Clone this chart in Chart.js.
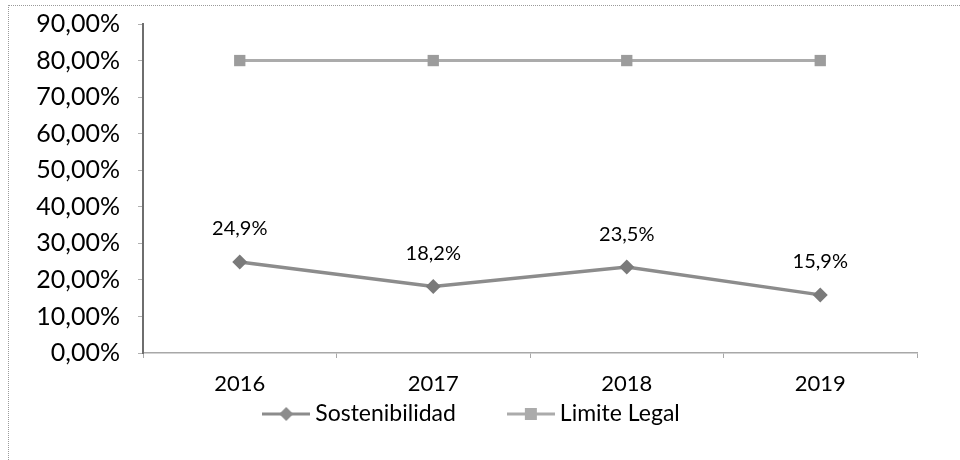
<!DOCTYPE html>
<html>
<head>
<meta charset="utf-8">
<script src="https://cdn.jsdelivr.net/npm/chart.js@4/dist/chart.umd.min.js"></script>
<style>
  html, body { margin: 0; padding: 0; background: #fff; }
  #wrap { position: relative; width: 960px; height: 460px; }
  #frame { position: absolute; left: 8px; top: 5px; right: 0; bottom: 0;
           border-top: 1px dotted #9a9a9a; border-left: 1px dotted #9a9a9a; }
  canvas { position: absolute; left: 0; top: 0; }
</style>
</head>
<body>
<div id="wrap">
  <div id="frame"></div>
  <canvas id="chart" width="960" height="460"></canvas>
</div>
<script>
// chart data
const years = ['2016', '2017', '2018', '2019'];
const sostenibilidad = [24.9, 18.2, 23.5, 15.9];
const limiteLegal = [80, 80, 80, 80];
const seriesNames = ['Sostenibilidad', 'Limite Legal'];

const FONT = 'Lato, "Open Sans", sans-serif';

// little symbol (line + marker) used in the legend
function legendSymbol(color, lineWidth, style) {
    const c = document.createElement('canvas');
    c.width = 48; c.height = 16;
    const g = c.getContext('2d');
    g.strokeStyle = color;
    g.lineWidth = lineWidth;
    g.beginPath(); g.moveTo(0, 8); g.lineTo(48, 8); g.stroke();
    g.fillStyle = color;
    if (style === 'rectRot') {
        g.beginPath(); g.moveTo(24, 1); g.lineTo(31, 8); g.lineTo(24, 15); g.lineTo(17, 8); g.closePath(); g.fill();
    } else {
        g.fillRect(18, 2, 12, 12);
    }
    return c;
}

const dataLabels = {
    id: 'dataLabels',
    afterDatasetsDraw(chart) {
        const ctx = chart.ctx;
        const meta = chart.getDatasetMeta(0);
        ctx.save();
        ctx.font = '20px ' + FONT;
        ctx.fillStyle = '#000';
        ctx.textAlign = 'center';
        ctx.textBaseline = 'middle';
        meta.data.forEach((pt, i) => {
            const v = chart.data.datasets[0].data[i];
            ctx.fillText(v.toFixed(1).replace('.', ',') + '%', pt.x, pt.y - 33);
        });
        ctx.restore();
    }
};

const bottomLegend = {
    id: 'bottomLegend',
    afterDraw(chart) {
        const ctx = chart.ctx;
        const sets = chart.data.datasets;
        ctx.save();
        ctx.font = '23px ' + FONT;
        ctx.textBaseline = 'middle';
        ctx.fillStyle = '#000';
        const symW = 48, gap = 5, itemGap = 51;
        const widths = sets.map(ds => symW + gap + ctx.measureText(ds.label).width);
        const total = widths.reduce((a, b) => a + b, 0) + itemGap * (sets.length - 1);
        let x = chart.width / 2 - 9 - total / 2;
        const y = 414;
        sets.forEach((ds, i) => {
            ctx.drawImage(ds.legendImg, x, y - 8);
            ctx.fillText(ds.label, x + symW + gap, y);
            x += widths[i] + itemGap;
        });
        ctx.restore();
    }
};

new Chart(document.getElementById('chart'), {
    type: 'line',
    data: {
        labels: years,
        datasets: [{
            label: seriesNames[0],
            data: sostenibilidad,
            borderColor: '#8c8c8c',
            backgroundColor: '#7a7a7a',
            borderWidth: 3.5,
            pointStyle: 'rectRot',
            pointRadius: 7.5,
            pointBorderWidth: 0,
            tension: 0,
            legendImg: legendSymbol('#8c8c8c', 3, 'rectRot')
        }, {
            label: seriesNames[1],
            data: limiteLegal,
            borderColor: '#ababab',
            backgroundColor: '#9c9c9c',
            borderWidth: 3,
            pointStyle: 'rect',
            pointRadius: 8,
            pointBorderWidth: 0,
            tension: 0,
            legendImg: legendSymbol('#ababab', 3, 'rect')
        }]
    },
    options: {
        responsive: false,
        animation: false,
        layout: { padding: { left: 0, right: 43, top: 24, bottom: 57 } },
        plugins: {
            legend: { display: false },
            tooltip: { enabled: false }
        },
        scales: {
            x: {
                offset: true,
                grid: { display: true, drawOnChartArea: false, offset: true, tickLength: 5, color: '#a8a8a8' },
                border: { color: '#a8a8a8', width: 1.5, dash: [2, 1] },
                ticks: { color: '#000', font: { family: FONT, size: 22 }, padding: 13 },
                afterFit(scale) { scale.height = 50; }
            },
            y: {
                min: 0,
                max: 90,
                grid: { display: true, drawOnChartArea: false, tickLength: 5, color: '#b0b0b0' },
                border: { color: '#6e6e6e', width: 2 },
                ticks: {
                    stepSize: 10,
                    color: '#000',
                    font: { family: FONT, size: 25 },
                    padding: 18,
                    callback: v => v.toFixed(2).replace('.', ',') + '%'
                },
                afterFit(scale) {
                    scale.width = 143;
                    scale.paddingTop = 0;
                    scale.paddingBottom = 0;
                }
            }
        }
    },
    plugins: [dataLabels, bottomLegend]
});
</script>
</body>
</html>
